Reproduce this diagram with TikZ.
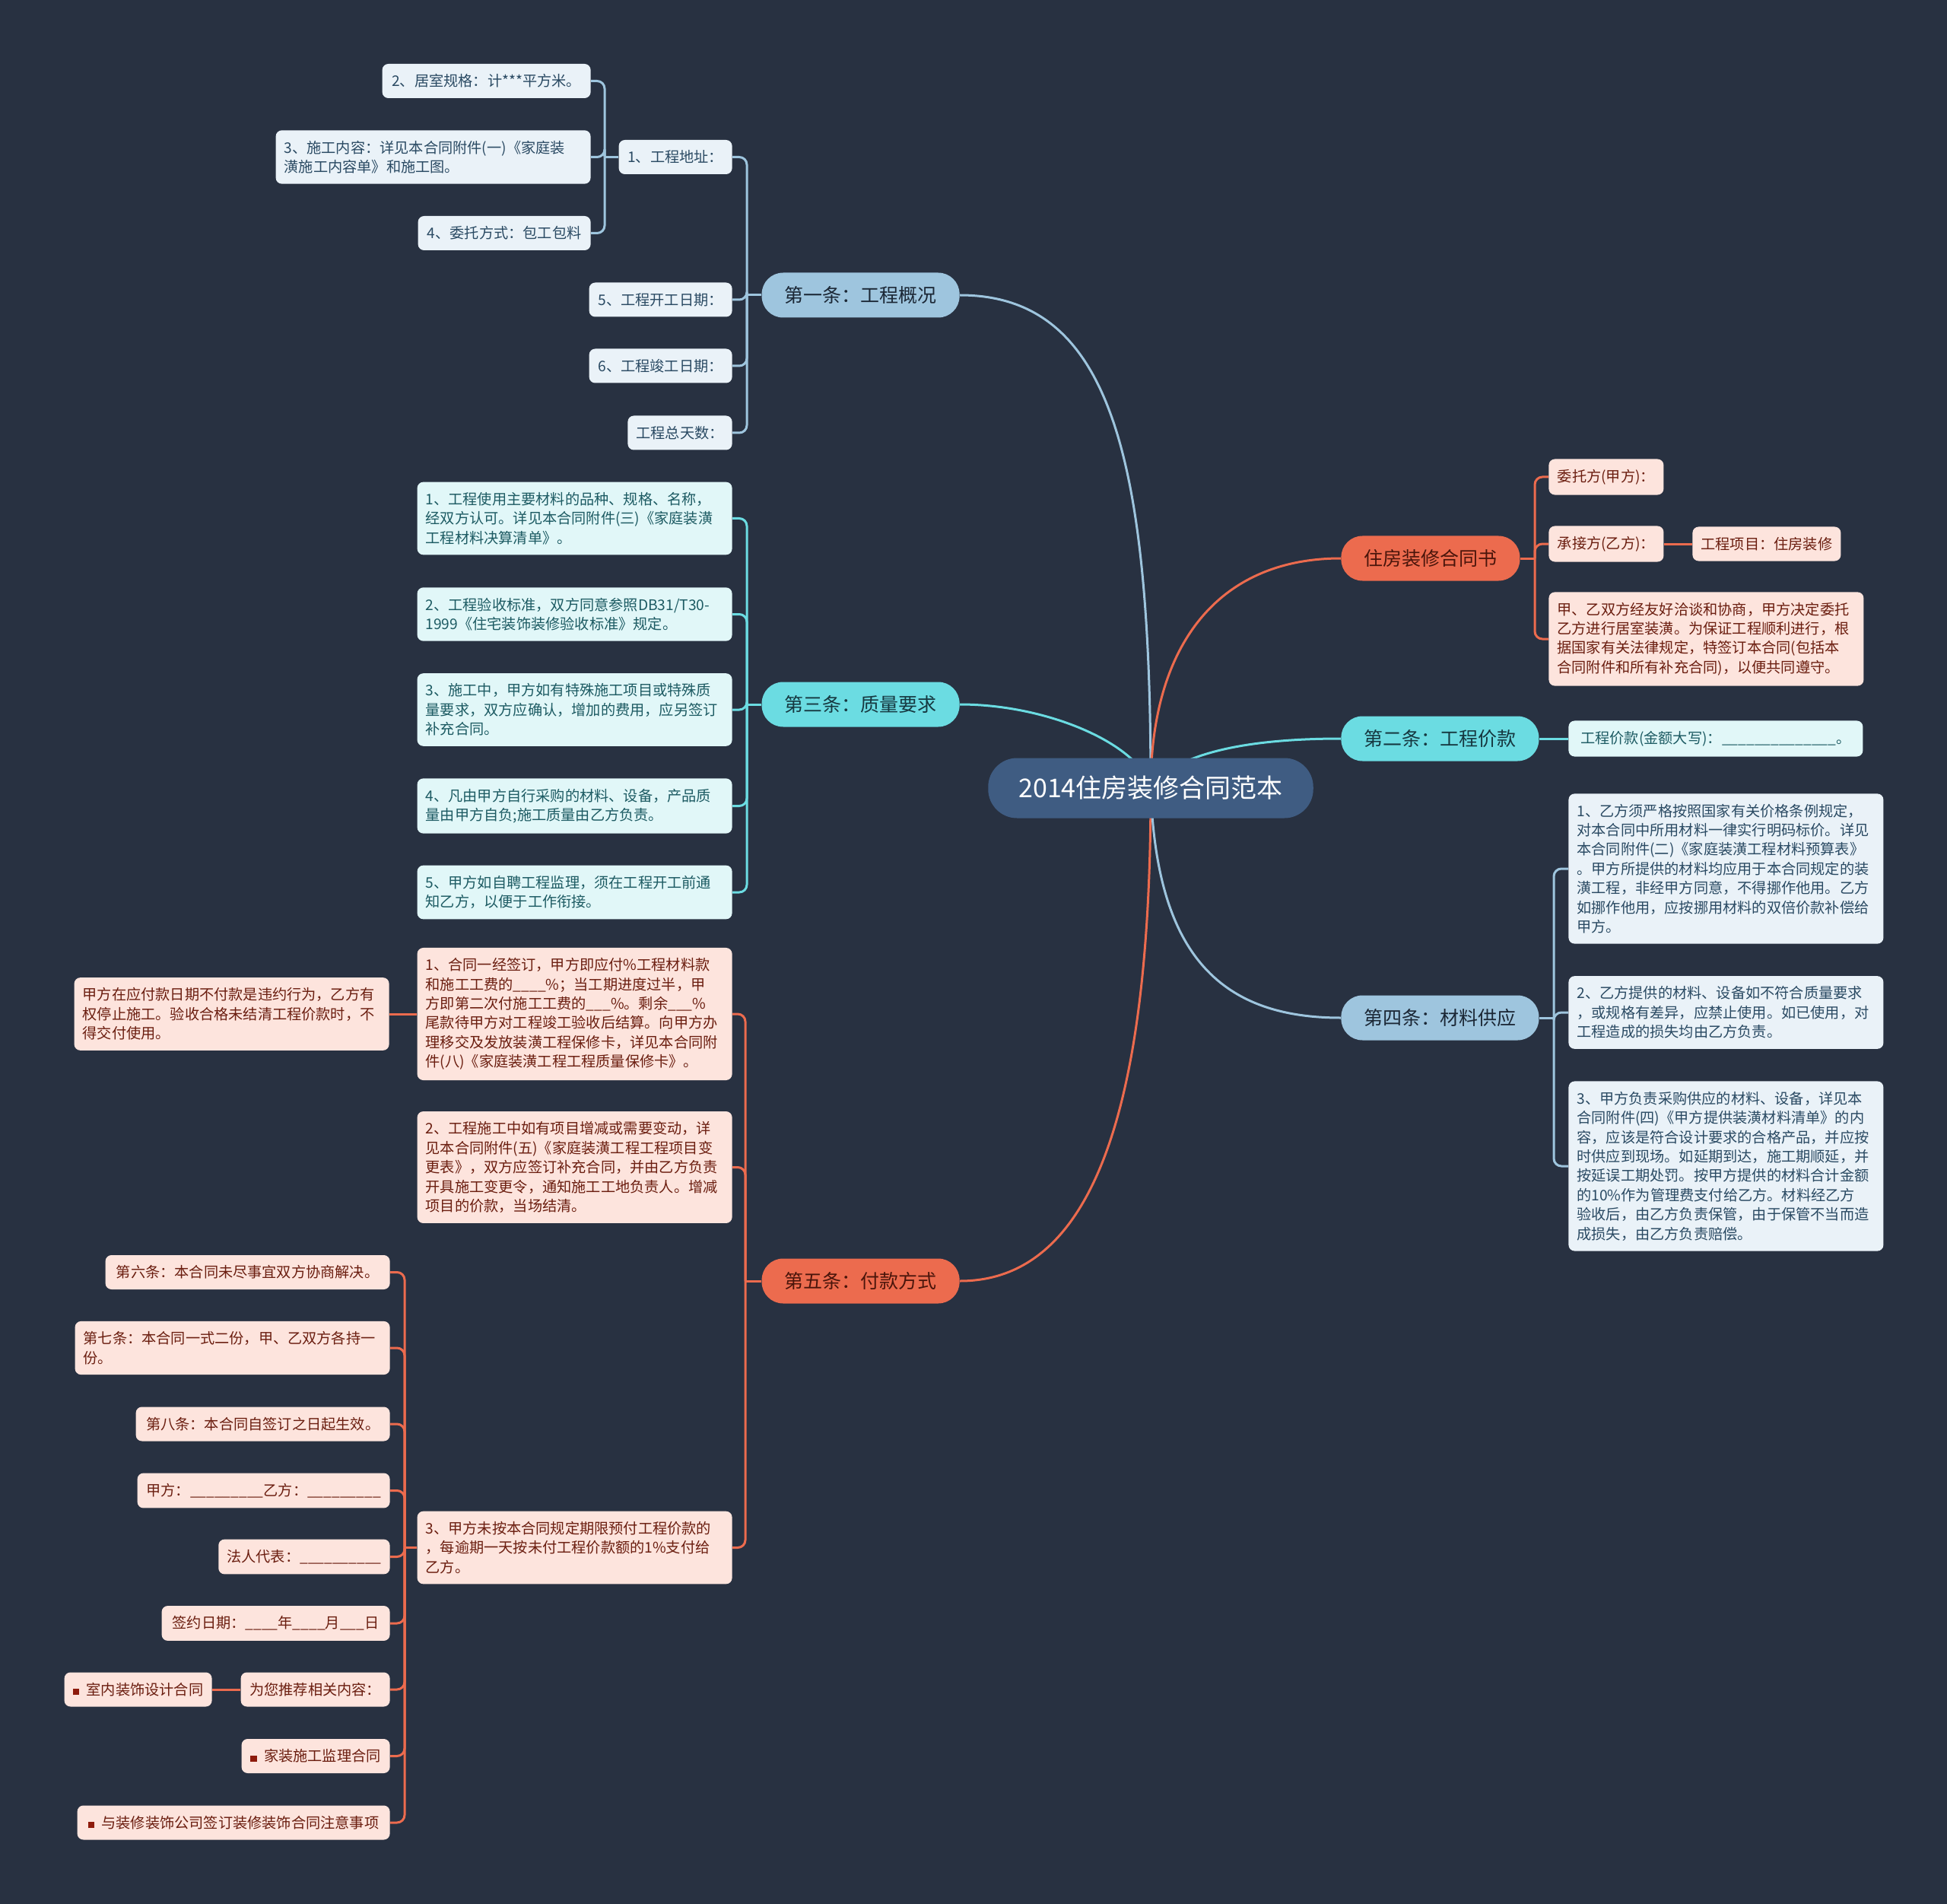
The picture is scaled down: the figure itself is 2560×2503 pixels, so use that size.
\documentclass[tikz,border=0pt]{standalone}
\usepackage{fontspec}
\setmainfont{Noto Sans CJK SC}

% Colores del mapa
\definecolor{bgdark}{HTML}{283141}
\definecolor{rootfill}{HTML}{3F5C82}
\definecolor{bluefill}{HTML}{9EC5DE}
\definecolor{cyanfill}{HTML}{6BDCE2}
\definecolor{redfill}{HTML}{EC6B4E}
\definecolor{bluepale}{HTML}{EAF2F8}
\definecolor{cyanpale}{HTML}{E1F7F8}
\definecolor{redpale}{HTML}{FDE4DD}
\definecolor{bluetext}{HTML}{2A4A63}
\definecolor{cyantext}{HTML}{1D5B63}
\definecolor{redtext}{HTML}{6B1E10}
\definecolor{bluedark}{HTML}{1B2735}
\definecolor{cyandark}{HTML}{163840}
\definecolor{reddark}{HTML}{4A150B}
\definecolor{bulletred}{HTML}{8E1B0C}

\pgfdeclarelayer{background}
\pgfdeclarelayer{edges}
\pgfsetlayers{background,edges,main}

\newcommand{\redsq}{{\color{bulletred}\rule{0.42em}{0.42em}}\hspace{0.5em}}

\begin{document}
\begin{tikzpicture}[
    x=0.5pt, y=-0.5pt,
    % Nodo central
    rootbox/.style={
        fill=rootfill,
        text=white,
        rounded corners=19pt,
        minimum height=39.5pt,
        inner xsep=20pt,
        font=\fontsize{17}{20}\selectfont
    },
    % Ramas principales
    branchbox/.style={
        rounded corners=14pt,
        minimum height=29.5pt,
        inner xsep=15pt,
        font=\fontsize{12.5}{15}\selectfont
    },
    bluebranch/.style={branchbox, fill=bluefill, text=bluedark},
    cyanbranch/.style={branchbox, fill=cyanfill, text=cyandark},
    redbranch/.style={branchbox, fill=redfill, text=reddark},
    % Hojas
    leafbox/.style={
        rounded corners=4pt,
        align=left,
        inner xsep=5.5pt,
        inner ysep=6.75pt,
        minimum height=22.5pt,
        font=\fontsize{9.6}{12.7}\selectfont
    },
    wide/.style={text width=196pt},
    blueleaf/.style={leafbox, fill=bluepale, text=bluetext},
    cyanleaf/.style={leafbox, fill=cyanpale, text=cyantext},
    redleaf/.style={leafbox, fill=redpale, text=redtext},
    % Conectores
    blueline/.style={draw=bluefill, line width=1.5pt},
    cyanline/.style={draw=cyanfill, line width=1.5pt},
    redline/.style={draw=redfill, line width=1.5pt},
    bus/.style={rounded corners=5pt}
]

    \useasboundingbox (0,0) rectangle (2560,2503);
    \begin{pgfonlayer}{background}
        \fill[bgdark] (0,0) rectangle (2560,2503);
    \end{pgfonlayer}

    % ==========================================
    % NODO CENTRAL Y RAMAS
    % ==========================================
    \node[rootbox] (root) at (1513, 1036) {2014住房装修合同范本};

    \node[bluebranch, anchor=east] (b1) at (1262, 388) {第一条：工程概况};
    \node[cyanbranch, anchor=east] (b3) at (1262, 926) {第三条：质量要求};
    \node[redbranch, anchor=east] (b5) at (1262, 1684) {第五条：付款方式};
    \node[redbranch, anchor=west] (b0) at (1763, 734) {住房装修合同书};
    \node[cyanbranch, anchor=west] (b2) at (1763, 971) {第二条：工程价款};
    \node[bluebranch, anchor=west] (b4) at (1763, 1338) {第四条：材料供应};

    % ==========================================
    % PRIMERA RAMA (IZQUIERDA ARRIBA)
    % ==========================================
    \node[blueleaf, anchor=east, minimum width=74.5pt] (addr) at (963, 206.5) {1、工程地址：};
    \node[blueleaf, anchor=east, minimum width=94pt] (start) at (963, 394) {5、工程开工日期：};
    \node[blueleaf, anchor=east, minimum width=94pt] (finish) at (963, 481) {6、工程竣工日期：};
    \node[blueleaf, anchor=east, minimum width=68.5pt] (days) at (963, 569) {工程总天数：};

    \node[blueleaf, anchor=east, minimum width=137pt] (size) at (777, 106.5) {2、居室规格：计***平方米。};
    \node[blueleaf, wide, anchor=east] (content) at (777, 206.5) {3、施工内容：详见本合同附件(一)《家庭装\\潢施工内容单》和施工图。};
    \node[blueleaf, anchor=east, minimum width=113.5pt] (mode) at (777, 306.5) {4、委托方式：包工包料};

    \coordinate (b1bus) at (982, 388);
    \coordinate (addrbus) at (795, 206.5);

    % ==========================================
    % TERCERA RAMA (IZQUIERDA CENTRO)
    % ==========================================
    \node[cyanleaf, wide, anchor=east] (q1) at (963, 681.5) {1、工程使用主要材料的品种、规格、名称，\\经双方认可。详见本合同附件(三)《家庭装潢\\工程材料决算清单》。};
    \node[cyanleaf, wide, anchor=east] (q2) at (963, 807.5) {2、工程验收标准，双方同意参照DB31/T30-\\1999《住宅装饰装修验收标准》规定。};
    \node[cyanleaf, wide, anchor=east] (q3) at (963, 933) {3、施工中，甲方如有特殊施工项目或特殊质\\量要求，双方应确认，增加的费用，应另签订\\补充合同。};
    \node[cyanleaf, wide, anchor=east] (q4) at (963, 1059.5) {4、凡由甲方自行采购的材料、设备，产品质\\量由甲方自负;施工质量由乙方负责。};
    \node[cyanleaf, wide, anchor=east] (q5) at (963, 1173) {5、甲方如自聘工程监理，须在工程开工前通\\知乙方，以便于工作衔接。};

    \coordinate (b3bus) at (982, 926);

    % ==========================================
    % QUINTA RAMA (IZQUIERDA ABAJO)
    % ==========================================
    \node[redleaf, wide, anchor=east] (p1) at (963, 1333) {1、合同一经签订，甲方即应付\%工程材料款\\和施工工费的\_\_\_\_\%；当工期进度过半，甲\\方即第二次付施工工费的\_\_\_\%。剩余\_\_\_\%\\尾款待甲方对工程竣工验收后结算。向甲方办\\理移交及发放装潢工程保修卡，详见本合同附\\件(八)《家庭装潢工程工程质量保修卡》。};
    \node[redleaf, wide, anchor=east] (late) at (512, 1333) {甲方在应付款日期不付款是违约行为，乙方有\\权停止施工。验收合格未结清工程价款时，不\\得交付使用。};
    \node[redleaf, wide, anchor=east] (p2) at (963, 1534.5) {2、工程施工中如有项目增减或需要变动，详\\见本合同附件(五)《家庭装潢工程工程项目变\\更表》，双方应签订补充合同，并由乙方负责\\开具施工变更令，通知施工工地负责人。增减\\项目的价款，当场结清。};
    \node[redleaf, wide, anchor=east] (p3) at (963, 2034.5) {3、甲方未按本合同规定期限预付工程价款的\\，每逾期一天按未付工程价款额的1\%支付给\\乙方。};

    \node[redleaf, anchor=east, minimum width=187pt] (art6) at (513, 1672.5) {第六条：本合同未尽事宜双方协商解决。};
    \node[redleaf, wide, anchor=east] (art7) at (513, 1772) {第七条：本合同一式二份，甲、乙双方各持一\\份。};
    \node[redleaf, anchor=east, minimum width=167pt] (art8) at (513, 1872) {第八条：本合同自签订之日起生效。};
    \node[redleaf, anchor=east, minimum width=166pt] (sides) at (513, 1959.5) {甲方：\_\_\_\_\_\_\_\_\_乙方：\_\_\_\_\_\_\_\_\_};
    \node[redleaf, anchor=east, minimum width=112pt] (legal) at (513, 2046.5) {法人代表：\_\_\_\_\_\_\_\_\_\_};
    \node[redleaf, anchor=east, minimum width=150pt] (sign) at (513, 2134) {签约日期：\_\_\_\_年\_\_\_\_月\_\_\_日};
    \node[redleaf, anchor=east, minimum width=98pt] (rec) at (513, 2221) {为您推荐相关内容：};
    \node[redleaf, anchor=east, minimum width=97pt] (recdesign) at (279, 2221) {\redsq 室内装饰设计合同};
    \node[redleaf, anchor=east, minimum width=97.5pt] (recsuper) at (513, 2308.5) {\redsq 家装施工监理合同};
    \node[redleaf, anchor=east, minimum width=205.5pt] (recnote) at (513, 2396) {\redsq 与装修装饰公司签订装修装饰合同注意事项};

    \coordinate (b5bus) at (980, 1684);
    \coordinate (p3bus) at (532, 2034.5);

    % ==========================================
    % RAMAS DERECHAS
    % ==========================================
    \node[redleaf, anchor=west, minimum width=75.5pt] (client) at (2036, 627) {委托方(甲方)：};
    \node[redleaf, anchor=west, minimum width=75.5pt] (builder) at (2036, 715) {承接方(乙方)：};
    \node[redleaf, anchor=west, minimum width=97.5pt] (project) at (2225, 715) {工程项目：住房装修};
    \node[redleaf, wide, anchor=west] (intro) at (2036, 840) {甲、乙双方经友好洽谈和协商，甲方决定委托\\乙方进行居室装潢。为保证工程顺利进行，根\\据国家有关法律规定，特签订本合同(包括本\\合同附件和所有补充合同)，以便共同遵守。};
    \node[cyanleaf, anchor=west, minimum width=193.5pt] (price) at (2062, 971) {工程价款(金额大写)：\_\_\_\_\_\_\_\_\_\_\_\_\_\_。};

    \node[blueleaf, wide, anchor=west] (m1) at (2062, 1142) {1、乙方须严格按照国家有关价格条例规定，\\对本合同中所用材料一律实行明码标价。详见\\本合同附件(二)《家庭装潢工程材料预算表》\\。甲方所提供的材料均应用于本合同规定的装\\潢工程，非经甲方同意，不得挪作他用。乙方\\如挪作他用，应按挪用材料的双倍价款补偿给\\甲方。};
    \node[blueleaf, wide, anchor=west] (m2) at (2062, 1331) {2、乙方提供的材料、设备如不符合质量要求\\，或规格有差异，应禁止使用。如已使用，对\\工程造成的损失均由乙方负责。};
    \node[blueleaf, wide, anchor=west] (m3) at (2062, 1533) {3、甲方负责采购供应的材料、设备，详见本\\合同附件(四)《甲方提供装潢材料清单》的内\\容，应该是符合设计要求的合格产品，并应按\\时供应到现场。如延期到达，施工期顺延，并\\按延误工期处罚。按甲方提供的材料合计金额\\的10\%作为管理费支付给乙方。材料经乙方\\验收后，由乙方负责保管，由于保管不当而造\\成损失，由乙方负责赔偿。};

    \coordinate (b0bus) at (2018, 734);
    \coordinate (b4bus) at (2043, 1338);

    % ==========================================
    % CONEXIONES
    % ==========================================
    \begin{pgfonlayer}{edges}
        % del nodo central a las ramas
        \draw[blueline] (root.center) .. controls (1513, 600) and (1460, 388) .. (b1.east);
        \draw[cyanline] (root.center) .. controls (1500, 980) and (1380, 926) .. (b3.east);
        \draw[redline] (root.center) .. controls (1513, 1450) and (1440, 1684) .. (b5.east);
        \draw[redline] (root.center) .. controls (1513, 850) and (1600, 734) .. (b0.west);
        \draw[cyanline] (root.center) .. controls (1545, 990) and (1640, 971) .. (b2.west);
        \draw[blueline] (root.center) .. controls (1520, 1250) and (1600, 1338) .. (b4.west);

        % primera rama
        \draw[blueline] (b1.west) -- (b1bus);
        \foreach \n in {addr, start, finish, days}
            \draw[blueline, bus] (b1bus) |- (\n.east);
        \draw[blueline] (addr.west) -- (addrbus);
        \foreach \n in {size, content, mode}
            \draw[blueline, bus] (addrbus) |- (\n.east);

        % tercera rama
        \draw[cyanline] (b3.west) -- (b3bus);
        \foreach \n in {q1, q2, q3, q4, q5}
            \draw[cyanline, bus] (b3bus) |- (\n.east);

        % quinta rama
        \draw[redline] (b5.west) -- (b5bus);
        \foreach \n in {p1, p2, p3}
            \draw[redline, bus] (b5bus) |- (\n.east);
        \draw[redline] (p1.west) -- (late.east);
        \draw[redline] (p3.west) -- (p3bus);
        \foreach \n in {art6, art7, art8, sides, legal, sign, rec, recsuper, recnote}
            \draw[redline, bus] (p3bus) |- (\n.east);
        \draw[redline] (rec.west) -- (recdesign.east);

        % ramas derechas
        \draw[redline] (b0.east) -- (b0bus);
        \foreach \n in {client, builder, intro}
            \draw[redline, bus] (b0bus) |- (\n.west);
        \draw[redline] (builder.east) -- (project.west);
        \draw[cyanline] (b2.east) -- (price.west);
        \draw[blueline] (b4.east) -- (b4bus);
        \foreach \n in {m1, m2, m3}
            \draw[blueline, bus] (b4bus) |- (\n.west);
    \end{pgfonlayer}

\end{tikzpicture}
\end{document}
